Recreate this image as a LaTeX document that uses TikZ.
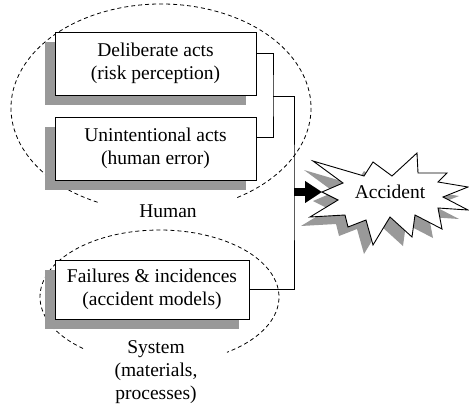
\documentclass[tikz,border=0pt]{standalone}
\usepackage{fontspec}
\setmainfont{Liberation Serif}
\usetikzlibrary{shadows,arrows.meta}
\colorlet{shadowgray}{black!40}
\tikzset{
  actbox/.style={draw, fill=white, line width=0.9pt, align=center, inner sep=0pt,
    minimum width=201pt, minimum height=63pt,
    drop shadow={shadow xshift=-10pt, shadow yshift=-10pt, fill=shadowgray, opacity=1}},
  region/.style={dash pattern=on 4pt off 3pt, line width=0.8pt},
  conn/.style={line width=0.9pt},
  burst/.style={insert path={(313,161) -- (364,176) -- (373,162) -- (392,176) -- (417,153)
    -- (418,173) -- (447,173) -- (438,182) -- (468,187) -- (443,197) -- (468,210)
    -- (438,208) -- (442,229) -- (415,215) -- (412,237) -- (390,217) -- (373,245)
    -- (366,220) -- (348,227) -- (345,215) -- (310,217) -- (338,200) -- (322,192)
    -- (343,183) -- cycle}},
}
\begin{document}
\begin{tikzpicture}[x=1pt, y=-1pt, font=\fontsize{19.5}{23}\selectfont]
    \useasboundingbox (0,0) rectangle (469,407);
    % dashed regions, open at the bottom for the labels
    \draw[region] (161,108) ++(115:150 and 104)
        arc[start angle=115, end angle=419.5, x radius=150, y radius=104];
    \draw[region] (159.5,297) ++(129.8:119.5 and 67)
        arc[start angle=129.8, end angle=415.6, x radius=119.5, y radius=67];
    \node (human) at (168,211) {Human};
    \node[align=center] (system) at (156,372) {System\\(materials,\\processes)};
    % causes
    \node[actbox] (delib) at (155.5,63.5) {Deliberate acts\\(risk perception)};
    \node[actbox] (unint) at (155.5,148.5) {Unintentional acts\\(human error)};
    \node[actbox, minimum width=194pt, minimum height=59pt] (fail) at (152,289.5)
        {Failures \& incidences\\(accident models)};
    % joining lines
    \coordinate (hj) at (273,96);
    \coordinate (bus) at (294,192);
    \coordinate (tip) at (322,192);
    \draw[conn] ([yshift=10.5pt]delib.east) -| (hj) |- ([yshift=11.5pt]unint.east);
    \draw[conn] (hj) -| (bus) |- (fail.east);
    % accident
    \fill[shadowgray, shift={(-9,9)}, burst];
    \draw[fill=white, line width=0.9pt, burst];
    \draw[line width=8pt, -{Triangle[length=17pt, width=21pt]}] (bus) -- (tip);
    \node (accident) at (390,192) {Accident};
\end{tikzpicture}
\end{document}
